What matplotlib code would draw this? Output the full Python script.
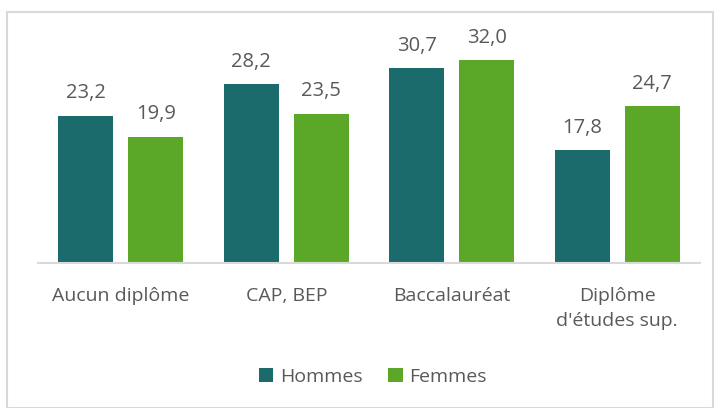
import matplotlib
matplotlib.use("Agg")
import matplotlib.pyplot as plt
import numpy as np
from matplotlib.patches import Rectangle

categories = ["Aucun diplôme", "CAP, BEP", "Baccalauréat", "Diplôme\nd'études sup."]
hommes = [23.2, 28.2, 30.7, 17.8]
femmes = [19.9, 23.5, 32.0, 24.7]
series_names = ["Hommes", "Femmes"]

c_h = "#1b6a6c"
c_f = "#5ba829"
txt = "#595959"

plt.rcParams['font.family'] = ['Open Sans', 'DejaVu Sans']

fig = plt.figure(figsize=(7.14, 4.08), dpi=100)
ax = fig.add_axes([38/714, 145/408, 662/714, 222/408])

x = np.arange(len(categories))
w = 0.332
gap = 0.09
b1 = ax.bar(x - (w + gap)/2, hommes, w, color=c_h, label=series_names[0])
b2 = ax.bar(x + (w + gap)/2, femmes, w, color=c_f, label=series_names[1])

for bars, vals in ((b1, hommes), (b2, femmes)):
    for r, v in zip(bars, vals):
        ax.annotate(f"{v:.1f}".replace(".", ","), (r.get_x() + r.get_width()/2, v),
                    xytext=(0, 9), textcoords="offset points", ha="center", va="bottom",
                    fontsize=14.5, color=txt)

ax.set_xlim(-0.5, len(categories) - 0.5)
ax.set_ylim(0, 35)
ax.set_yticks([])
ax.set_xticks(x)
ax.set_xticklabels(categories, fontsize=14, color=txt, linespacing=1.5)
ax.tick_params(axis='x', length=0, pad=17)
for s in ("top", "right", "left"):
    ax.spines[s].set_visible(False)
ax.spines["bottom"].set_color("#d9d9d9")
ax.spines["bottom"].set_linewidth(1.5)

leg = fig.legend(handles=[b1, b2], labels=series_names, loc="center",
                 bbox_to_anchor=(373/714, 1 - 377/408), ncol=2, frameon=False,
                 fontsize=14, handlelength=0.75, handleheight=0.75,
                 handletextpad=0.35, columnspacing=1.3)
for t in leg.get_texts():
    t.set_color(txt)

fig.patches.append(Rectangle((7/714, 0.0), 706/714, 1 - 12/408, transform=fig.transFigure,
                             fill=False, edgecolor="#d9d9d9", linewidth=1.5))

fig.savefig("out.png", dpi=100)
